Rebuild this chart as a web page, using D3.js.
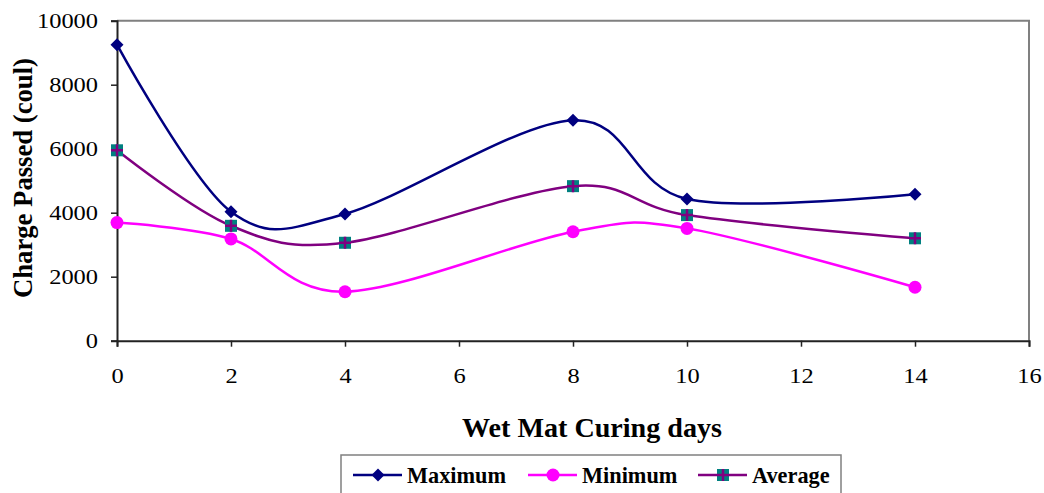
<!DOCTYPE html>
<html><head><meta charset="utf-8">
<script src="https://cdn.jsdelivr.net/npm/d3@7"></script>
<style>body{margin:0;background:#fff}svg{display:block}text{font-family:"Liberation Serif","Times New Roman",serif}</style>
</head><body>
<script>
const days = [0, 2, 4, 8, 10, 14];
const maximum = [9250, 4030, 3960, 6890, 4430, 4575];
const minimum = [3690, 3180, 1530, 3405, 3510, 1670];
const average = [5950, 3590, 3060, 4830, 3925, 3200];
const xTicks = [0, 2, 4, 6, 8, 10, 12, 14, 16];
const yTicks = [0, 2000, 4000, 6000, 8000, 10000];
const seriesNames = ["Maximum", "Minimum", "Average"];

const W = 1044, H = 493;
const svg = d3.select("body").append("svg").attr("width", W).attr("height", H);
const x = d3.scaleLinear().domain([0, 16]).range([117, 1029]);
const y = d3.scaleLinear().domain([0, 10000]).range([340.7, 20.7]);

// frame
svg.append("path").attr("d", `M${x(0)},${y(10000)}H${x(16)}V${y(0)}`)
  .attr("fill", "none").attr("stroke", "#808080").attr("stroke-width", 2);

const xa = svg.append("g").attr("transform", `translate(0,${y(0)})`)
  .call(d3.axisBottom(x).tickValues(xTicks).tickSize(6).tickPadding(21).tickFormat(d3.format("d")));
const ya = svg.append("g").attr("transform", `translate(${x(0)},0)`)
  .call(d3.axisLeft(y).tickValues(yTicks).tickSize(6).tickPadding(13).tickFormat(d3.format("d")));
[xa, ya].forEach(a => {
  a.attr("font-family", null);
  a.select(".domain").attr("stroke", "#222").attr("stroke-width", 2);
  a.selectAll(".tick line").attr("stroke", "#222").attr("stroke-width", 1.5);
  a.selectAll("text").attr("font-size", 21).attr("fill", "#000")
   .style("font-family", '"Liberation Serif", serif')
   .attr("textLength", function() { return this.textContent.length * 12.2; })
   .attr("lengthAdjust", "spacingAndGlyphs");
});
ya.selectAll("text").attr("dy", "0.33em");

const series = [
  {name: seriesNames[0], vals: maximum, color: "#000080", marker: "diamond"},
  {name: seriesNames[1], vals: minimum, color: "#FF00FF", marker: "circle"},
  {name: seriesNames[2], vals: average, color: "#800080", marker: "square"}
];

const line = d3.line().x(d => x(d[0])).y(d => y(d[1])).curve(d3.curveCatmullRom.alpha(0));

function drawMarker(g, type, cx, cy) {
  if (type === "diamond") {
    g.append("path").attr("d", `M${cx},${cy-6.5}L${cx+6.5},${cy}L${cx},${cy+6.5}L${cx-6.5},${cy}Z`).attr("fill", "#000080");
  } else if (type === "circle") {
    g.append("circle").attr("cx", cx).attr("cy", cy).attr("r", 6.5).attr("fill", "#FF00FF");
  } else {
    g.append("rect").attr("x", cx-6).attr("y", cy-6).attr("width", 12).attr("height", 12).attr("fill", "#008080");
    g.append("path").attr("d", `M${cx-6},${cy}H${cx+6}M${cx},${cy-6}V${cy+6}`).attr("stroke", "#800080").attr("stroke-width", 2.5);
  }
}

series.forEach(s => {
  const pts = days.map((d, i) => [d, s.vals[i]]);
  svg.append("path").attr("d", line(pts)).attr("fill", "none").attr("stroke", s.color).attr("stroke-width", 2.5);
  const g = svg.append("g");
  pts.forEach(p => drawMarker(g, s.marker, x(p[0]), y(p[1])));
});

// axis titles
svg.append("text").attr("x", 592).attr("y", 437).attr("text-anchor", "middle")
  .attr("font-size", 28).attr("font-weight", "bold")
  .attr("textLength", 260).attr("lengthAdjust", "spacingAndGlyphs").text("Wet Mat Curing days");
svg.append("text").attr("transform", `translate(32,178) rotate(-90)`).attr("text-anchor", "middle")
  .attr("font-size", 27).attr("font-weight", "bold")
  .attr("textLength", 240).attr("lengthAdjust", "spacingAndGlyphs").text("Charge Passed (coul)");

// legend
svg.append("rect").attr("x", 341).attr("y", 455).attr("width", 500).attr("height", 45)
  .attr("fill", "#fff").attr("stroke", "#808080").attr("stroke-width", 1.5);
const legX = [353, 528, 698];
series.forEach((s, i) => {
  const lx = legX[i], ly = 475;
  svg.append("line").attr("x1", lx).attr("x2", lx + 49).attr("y1", ly).attr("y2", ly).attr("stroke", s.color).attr("stroke-width", 2.5);
  drawMarker(svg.append("g"), s.marker, lx + 25, ly);
  svg.append("text").attr("x", lx + 54).attr("y", 483).attr("font-size", 22.3).attr("font-weight", "bold").text(s.name);
});
</script>
</body></html>
